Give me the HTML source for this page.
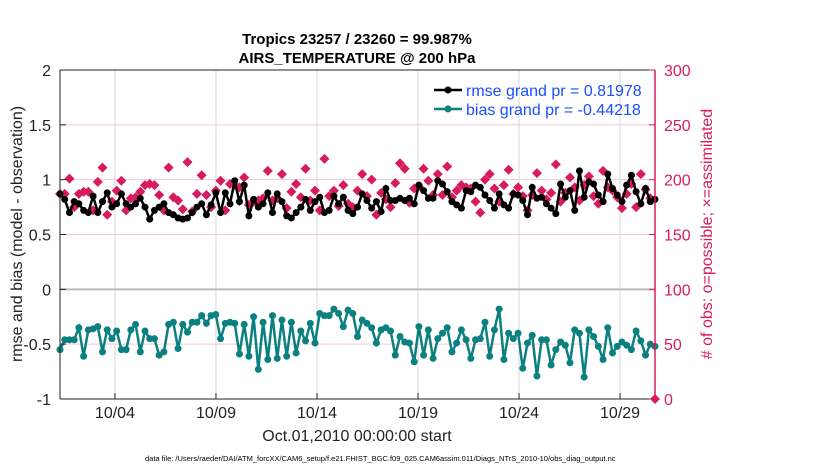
<!DOCTYPE html>
<html><head><meta charset="utf-8"><style>
body{margin:0;background:#fff;width:830px;height:470px;overflow:hidden;font-family:"Liberation Sans",sans-serif}
svg text{font-family:"Liberation Sans",sans-serif}
</style></head><body>
<svg id="chart" width="830" height="470" xmlns="http://www.w3.org/2000/svg"></svg>
<script>
const rmse=[0.87,0.82,0.70,0.80,0.78,0.72,0.70,0.85,0.70,0.80,0.88,0.75,0.78,0.87,0.78,0.75,0.78,0.83,0.75,0.64,0.72,0.75,0.78,0.70,0.68,0.65,0.64,0.65,0.70,0.75,0.78,0.68,0.77,0.88,0.70,0.88,0.78,0.99,0.80,0.95,0.67,0.82,0.75,0.78,0.88,0.70,0.87,0.80,0.67,0.65,0.70,0.75,0.82,0.72,0.80,0.84,0.70,0.72,0.85,0.78,
0.84,0.72,0.69,0.75,0.87,0.81,0.74,0.80,0.71,0.92,0.81,0.81,0.83,0.81,0.83,0.78,0.95,0.90,0.83,0.83,0.99,0.96,0.89,0.80,0.77,0.74,0.90,0.89,0.95,0.93,0.86,0.81,0.74,0.87,0.77,0.74,0.87,0.86,0.81,0.68,0.93,0.83,0.84,0.78,0.74,0.69,0.96,0.84,0.90,0.72,1.08,0.84,0.98,0.96,0.86,0.80,1.05,0.92,0.86,0.80,0.95,1.04,0.89,0.78,0.92,0.80,0.82];
const bias=[-0.55,-0.46,-0.46,-0.46,-0.35,-0.61,-0.37,-0.36,-0.34,-0.57,-0.37,-0.45,-0.38,-0.55,-0.55,-0.37,-0.32,-0.57,-0.38,-0.45,-0.45,-0.60,-0.57,-0.32,-0.30,-0.54,-0.32,-0.39,-0.30,-0.30,-0.24,-0.31,-0.24,-0.23,-0.45,-0.31,-0.30,-0.31,-0.59,-0.32,-0.61,-0.25,-0.73,-0.30,-0.64,-0.24,-0.63,-0.28,-0.61,-0.30,-0.58,-0.38,-0.47,-0.31,-0.49,-0.22,-0.24,-0.24,-0.18,-0.22,
-0.34,-0.19,-0.22,-0.43,-0.28,-0.31,-0.35,-0.49,-0.37,-0.35,-0.38,-0.60,-0.43,-0.48,-0.49,-0.66,-0.34,-0.60,-0.37,-0.63,-0.45,-0.40,-0.35,-0.57,-0.49,-0.37,-0.46,-0.63,-0.46,-0.45,-0.30,-0.61,-0.37,-0.18,-0.64,-0.40,-0.45,-0.40,-0.72,-0.49,-0.42,-0.79,-0.46,-0.46,-0.69,-0.55,-0.48,-0.51,-0.67,-0.37,-0.40,-0.80,-0.37,-0.43,-0.52,-0.64,-0.35,-0.58,-0.52,-0.48,-0.51,-0.55,-0.38,-0.47,-0.60,-0.50,-0.52];
const counts=[187,187,201,175,187,189,189,172,198,211,168,180,190,199,172,183,184,189,195,196,195,186,172,211,184,181,173,216,171,187,204,186,175,190,199,172,196,195,193,202,177,180,181,183,208,181,183,205,174,189,196,184,210,181,190,172,219,185,190,176,
195,178,175,190,205,185,200,168,188,182,175,197,215,210,179,192,194,210,199,186,205,186,212,184,190,195,193,192,180,170,200,205,192,180,195,209,187,193,185,172,186,206,190,182,188,214,180,188,202,193,181,195,203,185,178,208,193,190,184,174,187,196,175,205,191,183,0];
const xTickDays=[3,8,13,18,23,28];
const xTickLabels=["10/04","10/09","10/14","10/19","10/24","10/29"];
const yLeftTicks=[-1,-0.5,0,0.5,1,1.5,2];
const yRightTicks=[0,50,100,150,200,250,300];

const NS="http://www.w3.org/2000/svg";
const svg=document.getElementById('chart');
const L=60,R=655,T=70,B=399;
const T0=0.28,T1=29.73;
const X=t=>L+(t-T0)/(T1-T0)*(R-L);
const Y=v=>B-(v+1)/3*(B-T);
const YR=c=>B-c/300*(B-T);
function mk(tag,attrs,parent){const e=document.createElementNS(NS,tag);for(const k in attrs)e.setAttribute(k,attrs[k]);(parent||svg).appendChild(e);return e;}
function txt(s,attrs){const e=mk('text',attrs);e.textContent=s;return e;}

mk('rect',{x:L,y:T,width:R-L,height:B-T,fill:'#fff'});
yRightTicks.forEach(c=>{if(c>0&&c<300){const g=mk('line',{x1:L,x2:R,y1:YR(c),y2:YR(c),stroke:'#f3c6d6','stroke-width':1});

}});
xTickDays.forEach(d=>{const g=mk('line',{x1:X(d),x2:X(d),y1:T,y2:B,stroke:'#d8d8d8','stroke-width':1});

});
const z=mk('line',{x1:L,x2:R,y1:Y(0),y2:Y(0),stroke:'#bbb','stroke-width':2});



const tAt=(i,n)=>T0+i*(T1-T0)/(n-1);
for(let i=0;i<counts.length;i++){const x=X(tAt(i,counts.length)),y=YR(counts[i]);
const m=mk('path',{d:`M${x} ${y-5}L${x+5} ${y}L${x} ${y+5}L${x-5} ${y}Z`,fill:'#d81b60'});

}
function series(arr,color,name){
const n=arr.length;let d='';arr.forEach((v,i)=>{d+=(i?'L':'M')+X(tAt(i,n)).toFixed(1)+' '+Y(v).toFixed(1);});
const p=mk('path',{d:d,fill:'none',stroke:color,'stroke-width':2.5});


arr.forEach((v,i)=>{const c=mk('circle',{cx:X(tAt(i,n)),cy:Y(v),r:3.5,fill:color});

});}
series(rmse,'#000','rmse');
series(bias,'#0a8080','bias');

mk('line',{x1:L,x2:R,y1:T,y2:T,stroke:'#222'});
mk('line',{x1:L,x2:R,y1:B,y2:B,stroke:'#222'});
mk('line',{x1:L,x2:L,y1:T,y2:B,stroke:'#222'});
mk('line',{x1:R,x2:R,y1:T,y2:B,stroke:'#d81b60','stroke-width':1.5});
yLeftTicks.forEach(v=>{mk('line',{x1:L,x2:L+6,y1:Y(v),y2:Y(v),stroke:'#222'});
const t=txt(String(v),{x:L-9,y:Y(v)+6,'text-anchor':'end','font-size':16,fill:'#222'});

});
yRightTicks.forEach(c=>{mk('line',{x1:R-6,x2:R,y1:YR(c),y2:YR(c),stroke:'#d81b60'});
const t=txt(String(c),{x:R+9,y:YR(c)+6,'font-size':16,fill:'#d81b60'});

});
xTickDays.forEach((d,i)=>{mk('line',{x1:X(d),x2:X(d),y1:B,y2:B-6,stroke:'#222'});
const t=txt(xTickLabels[i],{x:X(d),y:B+19,'text-anchor':'middle','font-size':16,fill:'#222'});

});
</script>
<svg style="position:absolute;left:0;top:0" width="830" height="470" xmlns="http://www.w3.org/2000/svg">
<text x="357" y="44" text-anchor="middle" font-size="15" font-weight="bold" fill="#000">Tropics 23257 / 23260 = 99.987%</text>
<text x="357" y="63" text-anchor="middle" font-size="15" font-weight="bold" fill="#000">AIRS_TEMPERATURE @ 200 hPa</text>
<text x="357" y="441" text-anchor="middle" font-size="16" fill="#222">Oct.01,2010 00:00:00 start</text>
<text transform="translate(22,234) rotate(-90)" text-anchor="middle" font-size="16" fill="#222">rmse and bias (model - observation)</text>
<text transform="translate(712,234) rotate(-90)" text-anchor="middle" font-size="16" fill="#d81b60"># of obs: o=possible; ×=assimilated</text>
<g>
<line x1="434" x2="462" y1="90" y2="90" stroke="#000" stroke-width="2.5"/><circle cx="448" cy="90" r="3.5" fill="#000"/>
<text x="466" y="96" font-size="16" fill="#1a4fff">rmse grand pr = 0.81978</text>
<line x1="434" x2="462" y1="109" y2="109" stroke="#0a8080" stroke-width="2.5"/><circle cx="448" cy="109" r="3.5" fill="#0a8080"/>
<text x="466" y="115" font-size="16" fill="#1a4fff">bias grand pr = -0.44218</text>
</g>
<text x="145" y="461" font-size="7.5" fill="#000">data file: /Users/raeder/DAI/ATM_forcXX/CAM6_setup/f.e21.FHIST_BGC.f09_025.CAM6assim.011/Diags_NTrS_2010-10/obs_diag_output.nc</text>
</svg>
</body></html>
